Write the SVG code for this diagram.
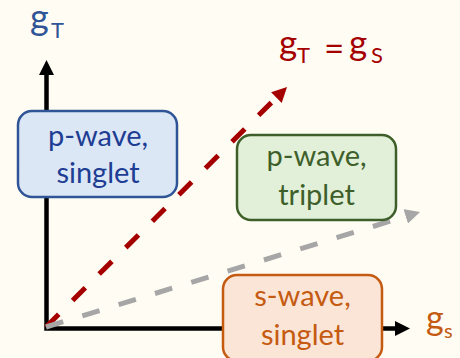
<svg xmlns="http://www.w3.org/2000/svg" width="460" height="358" viewBox="0 0 460 358">
<defs>
<style>
text{font-family:Lato,"Open Sans","Liberation Sans",sans-serif}
.box{stroke-width:2.5}
.bt{font-size:29px;text-anchor:middle}
.axis{fill:none;stroke:#000;stroke-width:4.5}
</style>
<marker id="ak" viewBox="0 0 10 10" refX="0" refY="5" markerUnits="userSpaceOnUse" markerWidth="15" markerHeight="15" orient="auto-start-reverse"><path d="M0,0L10,5L0,10z" fill="#000"/></marker>
<marker id="ar" viewBox="0 0 10 10" refX="0" refY="5" markerUnits="userSpaceOnUse" markerWidth="15" markerHeight="15" orient="auto"><path d="M0,0L10,5L0,10z" fill="#A50000"/></marker>
<marker id="ag" viewBox="0 0 10 10" refX="0" refY="5" markerUnits="userSpaceOnUse" markerWidth="15" markerHeight="15" orient="auto"><path d="M0,0L10,5L0,10z" fill="#A6A6A6"/></marker>
</defs>
<rect width="460" height="358" fill="#FFFCF3"/>
<g id="connectors">
<path class="axis" d="M46.5,75L46.5,328.5L395,328.5" marker-start="url(#ak)" marker-end="url(#ak)"/>
<path d="M46,327L276.4,97.6" stroke="#A50000" stroke-width="5" stroke-dasharray="18 19.5" fill="none" marker-end="url(#ar)"/>
<path d="M46,327L405.7,216.4" stroke="#A6A6A6" stroke-width="5" stroke-dasharray="18 20" fill="none" marker-end="url(#ag)"/>
</g>
<g id="label-gT">
<text x="30" y="30" font-size="36" fill="#2F5597">g<tspan x="51" y="38" font-size="22">T</tspan></text>
</g>
<g id="label-diag">
<text font-size="35" fill="#A50000"><tspan x="279" y="55">g</tspan><tspan x="297" y="63" font-size="22">T</tspan><tspan x="324" y="61">=</tspan><tspan x="349" y="55">g</tspan><tspan x="371" y="63" font-size="22">S</tspan></text>
</g>
<g id="label-gS">
<text font-size="34" fill="#C55A11"><tspan x="426" y="330">g</tspan><tspan x="444" y="338" font-size="20">s</tspan></text>
</g>
<g id="node-p-singlet">
<rect class="box" x="18" y="111" width="159" height="86" rx="14" fill="#DCE7F6" stroke="#2F5597"/>
<text class="bt" fill="#203D94"><tspan x="98" y="146">p-wave,</tspan><tspan x="98" y="183">singlet</tspan></text>
</g>
<g id="node-p-triplet">
<rect class="box" x="237" y="135" width="159" height="85" rx="14" fill="#E2F0D9" stroke="#3E5F2A"/>
<text class="bt" fill="#3E5F2A"><tspan x="316.5" y="166">p-wave,</tspan><tspan x="316.5" y="205">triplet</tspan></text>
</g>
<g id="node-s-singlet">
<rect class="box" x="223" y="275" width="159" height="86" rx="14" fill="#FBE5D6" stroke="#C55A11"/>
<text class="bt" fill="#C55A11"><tspan x="302.5" y="306">s-wave,</tspan><tspan x="302.5" y="345">singlet</tspan></text>
</g>
</svg>
